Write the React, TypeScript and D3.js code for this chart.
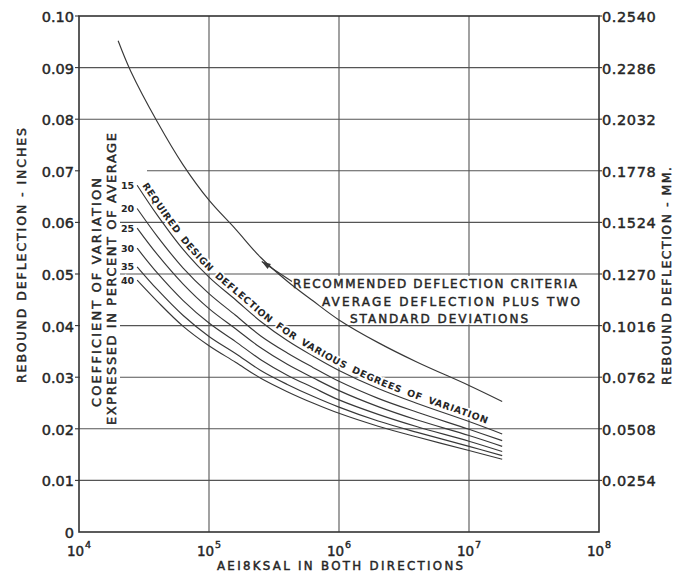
import React from "react";
import * as d3 from "d3";

// ---- data ----
const X_TICKS = [1e4, 1e5, 1e6, 1e7, 1e8];
const X_EXPONENTS = ["4", "5", "6", "7", "8"];
const Y_TICKS = [0, 0.01, 0.02, 0.03, 0.04, 0.05, 0.06, 0.07, 0.08, 0.09, 0.1];
const Y_LABELS_IN = ["0", "0.01", "0.02", "0.03", "0.04", "0.05", "0.06", "0.07", "0.08", "0.09", "0.10"];
const Y_LABELS_MM = ["", "0.0254", "0.0508", "0.0762", "0.1016", "0.1270", "0.1524", "0.1778", "0.2032", "0.2286", "0.2540"];

// Recommended deflection criteria (average + 2 SD)
const CRITERIA_X = [2e4, 2.5e4, 4e4, 6.3e4, 1e5, 1.6e5, 2.5e5, 4e5, 6.3e5, 1e6, 2e6, 4e6, 1e7, 1.8e7];
const CRITERIA_Y = [0.0952, 0.0893, 0.0795, 0.0712, 0.0643, 0.0587, 0.0532, 0.0486, 0.0448, 0.0411, 0.0367, 0.0329, 0.0284, 0.0253];

// Required design deflection for coefficient of variation (percent)
const DESIGN_X = [2.8e4, 4e4, 6.3e4, 1e5, 1.6e5, 2.5e5, 4e5, 6.3e5, 1e6, 2e6, 4e6, 1e7, 1.8e7];
const CV_LABELS = ["15", "20", "25", "30", "35", "40"];
const CV15 = [0.0672, 0.0614, 0.0548, 0.0494, 0.0450, 0.0408, 0.0371, 0.0341, 0.0313, 0.0278, 0.0249, 0.0214, 0.0190];
const CV20 = [0.0627, 0.0573, 0.0512, 0.0462, 0.0420, 0.0380, 0.0347, 0.0319, 0.0292, 0.0259, 0.0232, 0.0199, 0.0177];
const CV25 = [0.0589, 0.0538, 0.0481, 0.0433, 0.0394, 0.0357, 0.0325, 0.0299, 0.0274, 0.0243, 0.0217, 0.0187, 0.0166];
const CV30 = [0.0550, 0.0502, 0.0449, 0.0405, 0.0369, 0.0334, 0.0304, 0.0280, 0.0256, 0.0228, 0.0204, 0.0176, 0.0156];
const CV35 = [0.0514, 0.0470, 0.0420, 0.0379, 0.0346, 0.0313, 0.0286, 0.0263, 0.0242, 0.0215, 0.0193, 0.0166, 0.0148];
const CV40 = [0.0488, 0.0447, 0.0399, 0.0361, 0.0329, 0.0298, 0.0272, 0.0250, 0.0230, 0.0205, 0.0184, 0.0158, 0.0141];
const DESIGN_SERIES = [CV15, CV20, CV25, CV30, CV35, CV40];

const CURVE_WORDS = ["REQUIRED", "DESIGN", "DEFLECTION", "FOR", "VARIOUS", "DEGREES", "OF", "VARIATION"];
const REC_LINES = ["RECOMMENDED DEFLECTION CRITERIA", "AVERAGE DEFLECTION PLUS TWO", "STANDARD DEVIATIONS"];
const COEF_LINES = ["COEFFICIENT OF VARIATION", "EXPRESSED IN PERCENT OF AVERAGE"];
const X_TITLE = "AEI8KSAL IN BOTH DIRECTIONS";
const Y_TITLE_LEFT = "REBOUND DEFLECTION - INCHES";
const Y_TITLE_RIGHT = "REBOUND DEFLECTION - MM.";

const W = 675;
const H = 573;
const FONT = "'DejaVu Sans', Verdana, sans-serif";
const INK = "#262626";
const GRID = "#555";
const CURVE = "#383838";
const BOLDEN = 0.45;
const CURVE_FONT_SIZE = 9.5;
const CURVE_LETTER_SP = 0.6;
const CURVE_WORD_GAP = 6.5;

function measure(word: string): number {
  try {
    const ctx = document.createElement("canvas").getContext("2d");
    if (ctx) {
      ctx.font = `bold ${CURVE_FONT_SIZE}px 'DejaVu Sans'`;
      return ctx.measureText(word).width + CURVE_LETTER_SP * word.length;
    }
  } catch (e) {}
  return word.length * CURVE_FONT_SIZE * 0.78;
}

export default function App() {
  const x = d3.scaleLog().domain([1e4, 1e8]).range([79, 599]);
  const y = d3.scaleLinear().domain([0, 0.1]).range([532, 16]);
  const [x0, x1] = x.range();
  const [y0, y1] = y.range();

  const line = d3
    .line<[number, number]>()
    .x((d) => x(d[0]))
    .y((d) => y(d[1]))
    .curve(d3.curveCatmullRom.alpha(0.5));

  const criteria: [number, number][] = CRITERIA_X.map((v, i) => [v, CRITERIA_Y[i]]);
  const design: [number, number][][] = DESIGN_SERIES.map((s) => DESIGN_X.map((v, i) => [v, s[i]] as [number, number]));

  // offset path above the 15% curve for the curved label
  const p15 = design[0].map((d) => [x(d[0]), y(d[1])]);
  const off = 4;
  const offPts = p15.map((p, i) => {
    const a = p15[Math.max(0, i - 1)];
    const b = p15[Math.min(p15.length - 1, i + 1)];
    const dx = b[0] - a[0];
    const dy = b[1] - a[1];
    const L = Math.hypot(dx, dy);
    return [p[0] + (off * dy) / L, p[1] - (off * dx) / L] as [number, number];
  });
  {
    const n = offPts.length;
    const a = offPts[n - 2];
    const b = offPts[n - 1];
    const dx = b[0] - a[0];
    const dy = b[1] - a[1];
    const L = Math.hypot(dx, dy);
    offPts.push([b[0] + (24 * dx) / L, b[1] + (24 * dy) / L]);
  }
  const textPathD = d3.line().curve(d3.curveCatmullRom.alpha(0.5))(offPts as [number, number][]) || "";

  // word offsets along the path
  let acc = 3;
  const wordOffsets = CURVE_WORDS.map((w) => {
    const o = acc;
    acc += measure(w) + CURVE_WORD_GAP;
    return o;
  });

  // recommended text block layout
  const recBlock = [
    { cx: 435, base: 287.5, w: 284, top: 276, bot: 293 },
    { cx: 451, base: 306, w: 258, top: 293, bot: 310 },
    { cx: 439, base: 322.5, w: 178, top: 310, bot: 324.5 },
  ];
  const coefBlock = [
    { bx: 101, cy: 292.5, w: 229 },
    { bx: 116, cy: 279, w: 292 },
  ];

  // arrow to criteria curve
  const tipX = x(CRITERIA_X[6]) + 1;
  const tipY = y(CRITERIA_Y[6]) + 4;
  const tailX = recBlock[0].cx - recBlock[0].w / 2 - 1;
  const tailY = recBlock[0].base - 6;

  const ang = Math.atan2(tipY - tailY, tipX - tailX);
  const ah = 9;
  const aw = 3;
  const headPts = [
    [tipX, tipY],
    [tipX - ah * Math.cos(ang) + aw * Math.sin(ang), tipY - ah * Math.sin(ang) - aw * Math.cos(ang)],
    [tipX - ah * Math.cos(ang) - aw * Math.sin(ang), tipY - ah * Math.sin(ang) + aw * Math.cos(ang)],
  ];

  return (
    <svg
      width={W}
      height={H}
      viewBox={`0 0 ${W} ${H}`}
      style={{ position: "absolute", left: 0, top: 0, background: "#fff", display: "block" }}
      fontFamily={FONT}
    >
      <rect x={0} y={0} width={W} height={H} fill="#fff" />

      {/* grid */}
      <g stroke={GRID} strokeWidth={1.1}>
        {Y_TICKS.filter((t) => t > 0 && t < 0.1).map((t) => (
          <line key={"h" + t} x1={x0} x2={x1} y1={y(t)} y2={y(t)} />
        ))}
        {X_TICKS.slice(1, -1).map((t) => (
          <line key={"v" + t} x1={x(t)} x2={x(t)} y1={y1} y2={y0} />
        ))}
      </g>

      {/* knockouts for text blocks */}
      <g fill="#fff">
        <rect x={x0 + 1} y={130} width={40} height={297} />
        <rect x={x0 + 1} y={160} width={67} height={20} />
        {recBlock.map((r, i) => (
          <rect key={i} x={r.cx - r.w / 2 - 2} y={r.top} width={r.w + 4} height={r.bot - r.top} />
        ))}
      </g>

      {/* frame */}
      <rect x={x0} y={y1} width={x1 - x0} height={y0 - y1} fill="none" stroke="#333" strokeWidth={1.6} />

      {/* left ticks + labels */}
      <g fill={INK} fontSize={14.5} stroke={INK} strokeWidth={BOLDEN}>
        {Y_TICKS.map((t, i) => (
          <g key={"l" + t}>
            {i > 0 && <line x1={x0 - 4} x2={x0} y1={y(t)} y2={y(t)} stroke="#333" strokeWidth={1.1} />}
            <text x={x0 - 5} y={y(t) + 6} textAnchor="end">
              {Y_LABELS_IN[i]}
            </text>
          </g>
        ))}
      </g>

      {/* right ticks + labels */}
      <g fill={INK} fontSize={14.5} stroke={INK} strokeWidth={BOLDEN}>
        {Y_TICKS.map((t, i) =>
          Y_LABELS_MM[i] ? (
            <g key={"r" + t}>
              <line x1={x1} x2={x1 + 3} y1={y(t)} y2={y(t)} stroke="#333" strokeWidth={1.1} />
              <text x={x1 + 3} y={y(t) + 6} textAnchor="start" letterSpacing={0.6}>
                {Y_LABELS_MM[i]}
              </text>
            </g>
          ) : null
        )}
      </g>

      {/* bottom tick labels */}
      <g fill={INK} stroke={INK} strokeWidth={BOLDEN}>
        {X_TICKS.map((t, i) => (
          <text key={"x" + t} x={x(t)} y={555.8} textAnchor="middle" fontSize={13.5}>
            10
            <tspan fontSize={9.5} dx={1} dy={-8}>
              {X_EXPONENTS[i]}
            </tspan>
          </text>
        ))}
      </g>

      {/* axis titles */}
      <g fill={INK} stroke={INK} strokeWidth={BOLDEN}>
        <text x={340} y={570.2} textAnchor="middle" fontSize={11.8} textLength={246} lengthAdjust="spacing">
          {X_TITLE}
        </text>
        <text
          transform={`translate(26,255.5) rotate(-90)`}
          textAnchor="middle"
          fontSize={12.5}
          textLength={255}
          lengthAdjust="spacing"
        >
          {Y_TITLE_LEFT}
        </text>
        <text
          transform={`translate(671,276) rotate(-90)`}
          textAnchor="middle"
          fontSize={12.5}
          textLength={218}
          lengthAdjust="spacing"
        >
          {Y_TITLE_RIGHT}
        </text>

        {/* coefficient of variation label */}
        {coefBlock.map((c, i) => (
          <text
            key={"c" + i}
            transform={`translate(${c.bx},${c.cy}) rotate(-90)`}
            textAnchor="middle"
            fontSize={13}
            textLength={c.w}
            lengthAdjust="spacing"
          >
            {COEF_LINES[i]}
          </text>
        ))}

        {/* recommended criteria text */}
        {recBlock.map((r, i) => (
          <text
            key={"rec" + i}
            x={r.cx}
            y={r.base}
            textAnchor="middle"
            fontSize={12}
            textLength={r.w}
            lengthAdjust="spacing"
          >
            {REC_LINES[i]}
          </text>
        ))}
      </g>

      {/* curved label along 15% curve, one word at a time */}
      <path id="tp15" d={textPathD} fill="none" stroke="none" />
      {CURVE_WORDS.map((w, i) => (
        <text
          key={"w" + i}
          fontSize={CURVE_FONT_SIZE}
          fontWeight="bold"
          fill={INK}
          stroke="#fff"
          strokeWidth={3.5}
          paintOrder="stroke"
          letterSpacing={CURVE_LETTER_SP}
        >
          <textPath href="#tp15" startOffset={wordOffsets[i]}>
            {w}
          </textPath>
        </text>
      ))}

      {/* CV labels */}
      {design.map((s, i) => (
        <text
          key={"cv" + i}
          x={x(s[0][0]) - 3}
          y={y(s[0][1]) + 3.5}
          textAnchor="end"
          fontSize={9.5}
          fontWeight="bold"
          fill={INK}
          stroke="#fff"
          strokeWidth={3}
          paintOrder="stroke"
        >
          {CV_LABELS[i]}
        </text>
      ))}

      {/* curves */}
      <g fill="none" stroke={CURVE} strokeWidth={1.15}>
        <path d={line(criteria) || ""} />
        {design.map((s, i) => (
          <path key={"d" + i} d={line(s) || ""} />
        ))}
      </g>

      {/* arrow */}
      <line x1={tailX} y1={tailY} x2={tipX} y2={tipY} stroke={CURVE} strokeWidth={1.1} />
      <polygon points={headPts.map((p) => p.join(",")).join(" ")} fill={CURVE} />
    </svg>
  );
}
